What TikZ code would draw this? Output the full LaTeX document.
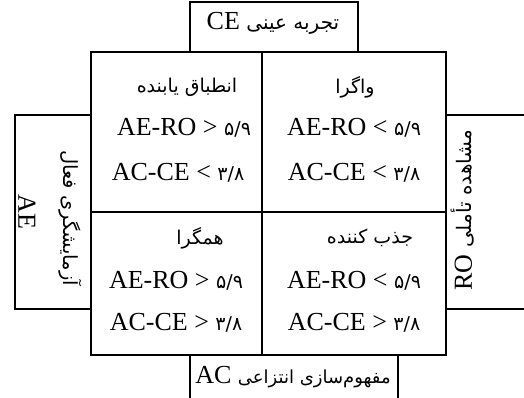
\documentclass[tikz,border=0pt]{standalone}
\usepackage{fontspec}
\setmainfont{Liberation Serif}
\newfontfamily\fa[Script=Arabic]{DejaVu Sans}
\TeXXeTstate=1
\newcommand{\fasz}[1]{\fa\fontsize{#1}{#1}\selectfont}
\newcommand{\dig}[1]{{\fasz{19}#1}}
\tikzset{
  frame/.style={draw=black, line width=1.4pt, inner sep=0pt, outer sep=0pt, anchor=north west},
  edge/.style={draw=black, line width=1.4pt},
  lat/.style={inner sep=0pt, font=\fontsize{26}{30}\selectfont},
  per/.style={inner sep=0pt, font=\fasz{19}},
}
\begin{document}
\begin{tikzpicture}[x=1pt,y=-1pt]
\useasboundingbox (0,0) rectangle (524,398);
% frames
\node[frame, minimum width=168pt, minimum height=50pt] (top) at (190,2) {};
\node[frame, minimum width=76pt, minimum height=194pt] (left) at (15,115) {};
\node[frame, minimum width=171pt, minimum height=160pt] (tl) at (91,52) {};
\node[frame, minimum width=184pt, minimum height=160pt] (tr) at (262,52) {};
\node[frame, minimum width=171pt, minimum height=143pt] (bl) at (91,212) {};
\node[frame, minimum width=184pt, minimum height=143pt] (br) at (262,212) {};
% open boxes
\coordinate (bxl) at (190,400);
\coordinate (bxr) at (398,400);
\coordinate (rbt) at (526,115);
\coordinate (rbb) at (526,309);
\path[edge] (bl.south west -| bxl) -- (bxl);
\path[edge] (br.south west -| bxr) -- (bxr);
\path[edge] (tr.east |- rbt) -- (rbt);
\path[edge] (br.east |- rbb) -- (rbb);
% top and bottom labels
\node[lat] (ce) at (273,23) {CE {\fasz{20}\beginR تجربه عینی\endR}};
\node[lat] (ac) at (293,377) {AC {\fasz{18}\beginR مفهوم‌سازی انتزاعی\endR}};
% side labels
\node[per, font=\fasz{19.5}, rotate=-90] (ae1) at (70,218) {\beginR آزمایشگری فعال\endR};
\node[lat, rotate=-90] (ae2) at (27,212) {AE};
\node[lat, rotate=90] (ro) at (463,210) {RO {\fasz{20}\beginR مشاهده تأملی\endR}};
% cell: top-left
\node[per] (tlt) at (187,87) {\beginR انطباق یابنده\endR};
\node[lat] (tl1) at (184,128) {AE-RO > \dig{۵/۹}};
\node[lat] (tl2) at (178,173) {AC-CE < \dig{۳/۸}};
% cell: top-right
\node[per] (trt) at (355,87) {\beginR واگرا\endR};
\node[lat] (tr1) at (354,128) {AE-RO < \dig{۵/۹}};
\node[lat] (tr2) at (354,173) {AC-CE < \dig{۳/۸}};
% cell: bottom-left
\node[per] (blt) at (200,238) {\beginR همگرا\endR};
\node[lat] (bl1) at (176,281) {AE-RO > \dig{۵/۹}};
\node[lat] (bl2) at (176,323) {AC-CE > \dig{۳/۸}};
% cell: bottom-right
\node[per] (brt) at (370,238) {\beginR جذب کننده\endR};
\node[lat] (br1) at (354,281) {AE-RO < \dig{۵/۹}};
\node[lat] (br2) at (354,323) {AC-CE > \dig{۳/۸}};
\end{tikzpicture}
\end{document}
